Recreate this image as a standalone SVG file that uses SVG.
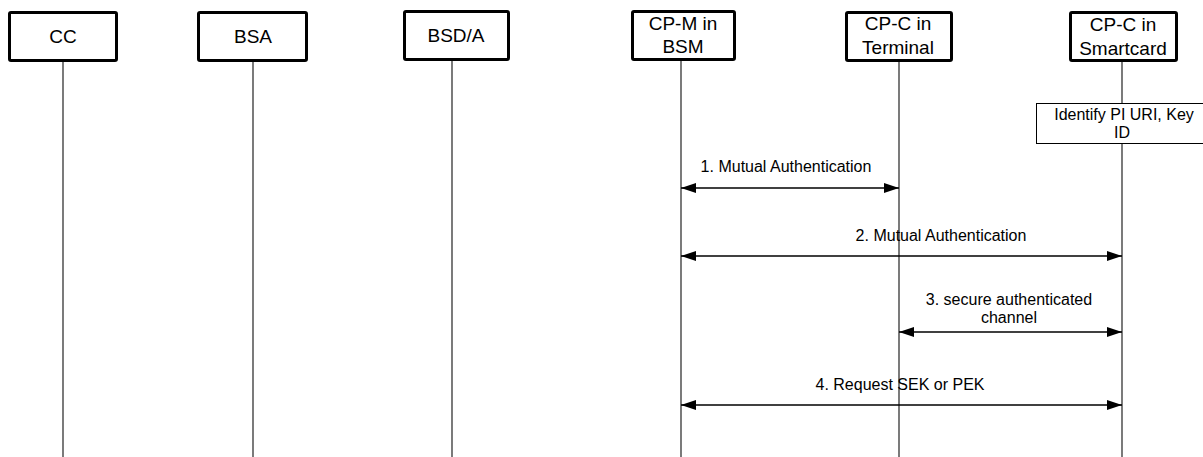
<svg xmlns="http://www.w3.org/2000/svg" width="1203" height="457" viewBox="0 0 1203 457">
<defs>
<style>
.box{fill:#fff;stroke:#000;stroke-width:3}
.life{stroke:#222;stroke-width:1.2;fill:none}
.t{font-family:"Liberation Sans",Arial,sans-serif;font-size:19px;fill:#000;text-anchor:middle}
.l{font-family:"Liberation Sans",Arial,sans-serif;font-size:16px;fill:#000;text-anchor:middle}
.msg{stroke:#000;stroke-width:1.5;fill:none;marker-start:url(#ah);marker-end:url(#ah)}
.act{fill:#fff;stroke:#000;stroke-width:1}
</style>
<marker id="ah" viewBox="0 0 15 10" refX="15" refY="5" markerWidth="15" markerHeight="10" markerUnits="userSpaceOnUse" orient="auto-start-reverse">
<path d="M0,0 L15,5 L0,10 Z" fill="#000"/>
</marker>
</defs>
<g id="lifelines">
<line class="life" x1="63" y1="61" x2="63" y2="457"/>
<line class="life" x1="253" y1="61" x2="253" y2="457"/>
<line class="life" x1="452" y1="60" x2="452" y2="457"/>
<line class="life" x1="681" y1="60" x2="681" y2="457"/>
<line class="life" x1="899" y1="61" x2="899" y2="457"/>
<line class="life" x1="1122" y1="61" x2="1122" y2="457"/>
</g>
<g id="n-cc"><rect class="box" x="9.5" y="12.5" width="107" height="48" rx="1.5"/><text class="t" x="63" y="43">CC</text></g>
<g id="n-bsa"><rect class="box" x="198.5" y="12.5" width="108" height="48" rx="1.5"/><text class="t" x="253" y="43">BSA</text></g>
<g id="n-bsda"><rect class="box" x="404.5" y="11.5" width="104" height="48" rx="1.5"/><text class="t" x="456" y="42">BSD/A</text></g>
<g id="n-cpm"><rect class="box" x="632.5" y="11.5" width="102" height="48" rx="1.5"/><text class="t" x="683" y="30">CP-M in</text><text class="t" x="683" y="53">BSM</text></g>
<g id="n-cpct"><rect class="box" x="846.5" y="12.5" width="105" height="48" rx="1.5"/><text class="t" x="898" y="30">CP-C in</text><text class="t" x="898" y="54">Terminal</text></g>
<g id="n-cpcs"><rect class="box" x="1070.5" y="12.5" width="106" height="48" rx="1.5"/><text class="t" x="1123" y="31">CP-C in</text><text class="t" x="1123" y="55">Smartcard</text></g>
<g id="n-identify"><rect class="act" x="1036.5" y="103.5" width="172" height="40"/><text class="l" x="1124" y="120">Identify PI URI, Key</text><text class="l" x="1122" y="138">ID</text></g>
<g id="connectors">
<line class="msg" x1="681" y1="188" x2="899" y2="188"/>
<text class="l" x="786" y="172">1. Mutual Authentication</text>
<line class="msg" x1="681" y1="256" x2="1122" y2="256"/>
<text class="l" x="941" y="241">2. Mutual Authentication</text>
<line class="msg" x1="899" y1="332" x2="1122" y2="332"/>
<text class="l" x="1009" y="305">3. secure authenticated</text>
<text class="l" x="1009" y="323">channel</text>
<line class="msg" x1="681" y1="405" x2="1122" y2="405"/>
<text class="l" x="900" y="390">4. Request SEK or PEK</text>
</g>
</svg>
